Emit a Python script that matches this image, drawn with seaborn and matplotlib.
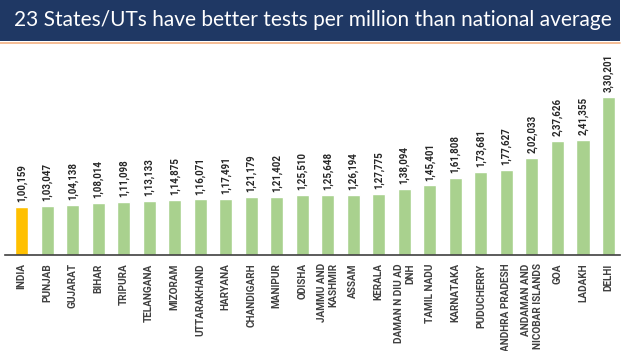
import matplotlib
matplotlib.use("Agg")
import matplotlib.pyplot as plt
import seaborn as sns
import pandas as pd

# dados (testes por milhão)
estados = ["INDIA", "PUNJAB", "GUJARAT", "BIHAR", "TRIPURA", "TELANGANA", "MIZORAM",
           "UTTARAKHAND", "HARYANA", "CHANDIGARH", "MANIPUR", "ODISHA",
           "JAMMU AND\nKASHMIR", "ASSAM", "KERALA", "DAMAN N DIU AD\nDNH",
           "TAMIL NADU", "KARNATAKA", "PUDUCHERRY", "ANDHRA PRADESH",
           "ANDAMAN AND\nNICOBAR ISLANDS", "GOA", "LADAKH", "DELHI"]
testes = [100159, 103047, 104138, 108014, 111098, 113133, 114875, 116071,
          117491, 121179, 121402, 125510, 125648, 126194, 127775, 138094,
          145401, 161808, 173681, 177627, 202033, 237626, 241355, 330201]
titulo = "23 States/UTs have better tests per million than national average"

cores = ["#FFC000" if e == "INDIA" else "#A9D18E" for e in estados]
df = pd.DataFrame({"estado": estados, "testes": testes})


def formato_indiano(n):
    s = str(n)
    ult = s[-3:]
    resto = s[:-3]
    grupos = []
    while len(resto) > 2:
        grupos.insert(0, resto[-2:])
        resto = resto[:-2]
    if resto:
        grupos.insert(0, resto)
    return ",".join(grupos + [ult])


sns.set_style("white")
plt.rcParams['font.family'] = ['Roboto', 'DejaVu Sans']

fig = plt.figure(figsize=(6.25, 3.51), dpi=100)

# faixa do título
faixa = fig.add_axes([0, 1 - 41 / 351, 0.992, 41 / 351])
faixa.set_facecolor("#1F3864")
faixa.set_xticks([])
faixa.set_yticks([])
for s in faixa.spines.values():
    s.set_visible(False)
faixa.text(0.505, 0.5, titulo, color="white", fontsize=15, family=['Lato', 'DejaVu Sans'],
           ha="center", va="center", transform=faixa.transAxes)
fig.add_artist(plt.Line2D([0, 0.992], [1 - 42.5 / 351, 1 - 42.5 / 351],
                          color="#F4B183", lw=1.2, transform=fig.transFigure))

ax = fig.add_axes([5 / 625, 96 / 351, 615 / 625, 210 / 351])
sns.barplot(data=df, x="estado", y="testes", hue="estado", palette=cores,
            legend=False, width=0.51, saturation=1, ax=ax)
ax.set_xlim(-0.65, len(estados) - 0.55)
ax.set_ylim(0, 438870)

for i, v in enumerate(testes):
    ax.annotate(formato_indiano(v), (i, v), xytext=(0, 3.5), textcoords="offset points",
                rotation=90, ha="center", va="bottom", fontsize=7,
                fontweight="bold", color="#262626", annotation_clip=False)

ax.set_xticks(range(len(estados)))
ax.set_xticklabels(estados, rotation=90, fontsize=7.2, fontweight="bold",
                   color="#404040", multialignment="right")
ax.tick_params(axis="x", length=0, pad=6)
ax.set_yticks([])
ax.set_xlabel("")
ax.set_ylabel("")
for lado in ["top", "right", "left"]:
    ax.spines[lado].set_visible(False)
ax.spines["bottom"].set_color("#404040")
ax.spines["bottom"].set_linewidth(1.2)
ax.patch.set_alpha(0)

fig.savefig("out.png", dpi=100)
